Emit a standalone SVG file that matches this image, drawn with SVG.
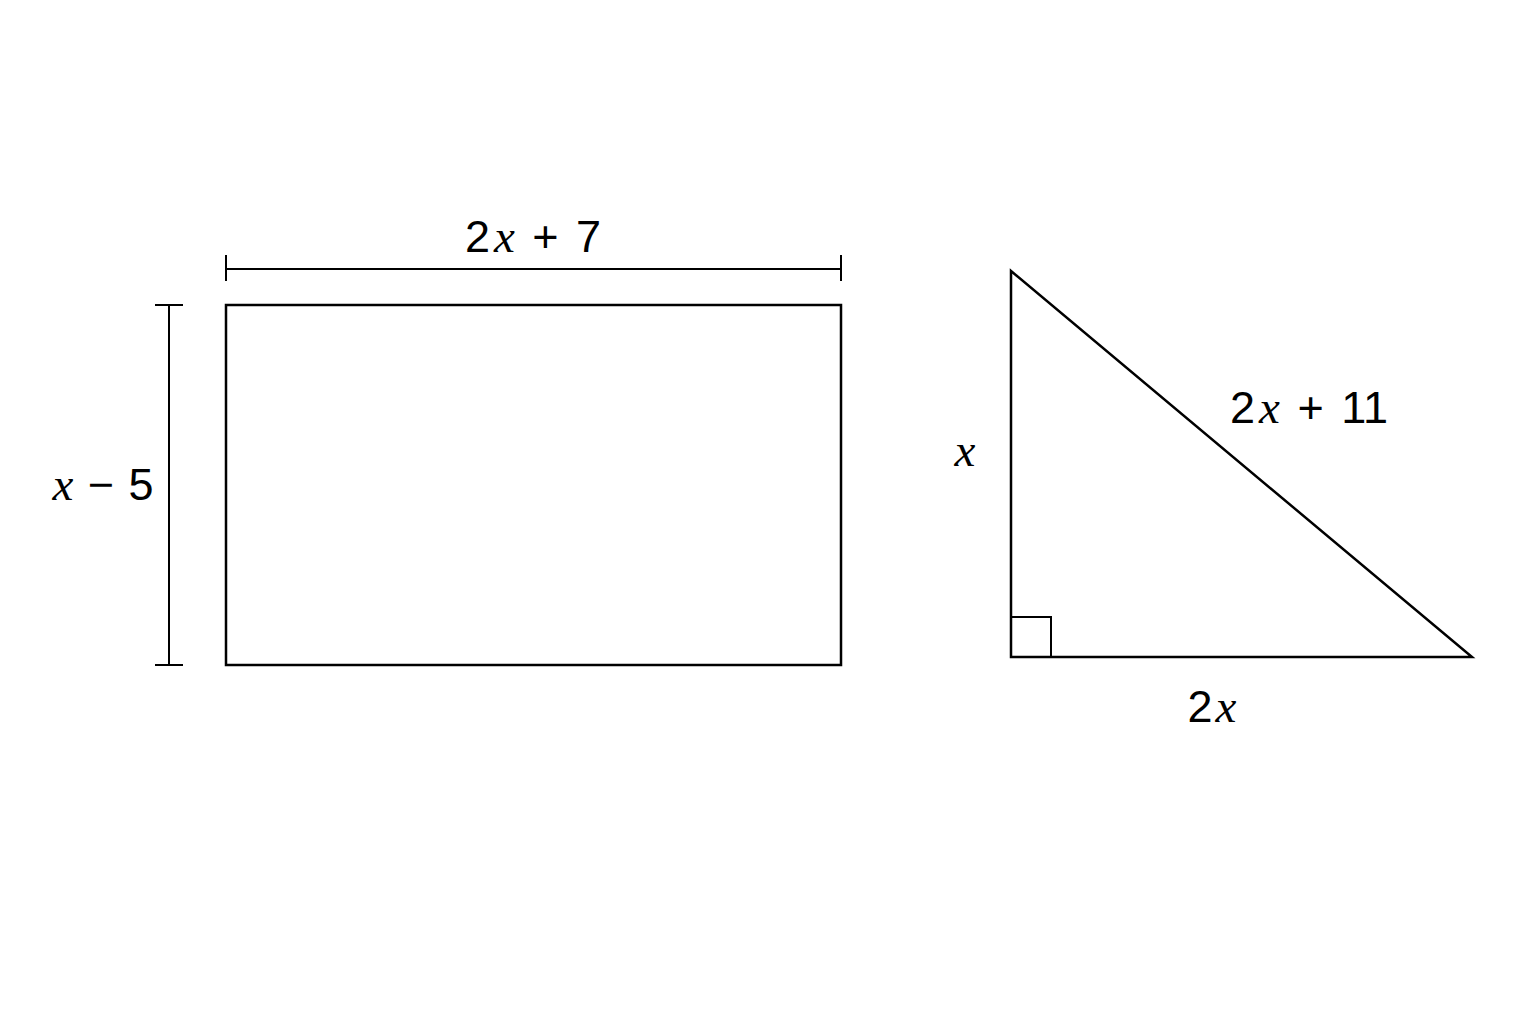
<svg xmlns="http://www.w3.org/2000/svg" width="1536" height="1024" viewBox="0 0 1536 1024">
<style>
.s{fill:none;stroke:#000;stroke-width:2.5;stroke-linejoin:miter}
.d{fill:none;stroke:#000;stroke-width:2}
.t{font-family:"Liberation Sans",Arial,sans-serif;font-size:45px;fill:#000;word-spacing:5px}
.v{font-family:"Liberation Serif","Times New Roman",serif;font-style:italic;font-size:47px}
</style>
<rect width="1536" height="1024" fill="#fff"/>
<g id="rectangle"><rect class="s" x="226" y="305" width="615" height="360"/></g>
<g id="triangle">
<polygon class="s" points="1011,271 1011,657 1472,657"/>
<polyline class="d" points="1011,617 1051,617 1051,657"/>
</g>
<g id="dimensions">
<line class="d" x1="226" y1="269" x2="841" y2="269"/>
<line class="d" x1="226" y1="255" x2="226" y2="281"/>
<line class="d" x1="841" y1="255" x2="841" y2="281"/>
<line class="d" x1="169" y1="305" x2="169" y2="665"/>
<line class="d" x1="155" y1="305" x2="183" y2="305"/>
<line class="d" x1="155" y1="665" x2="183" y2="665"/>
</g>
<g id="labels">
<text class="t" x="533" y="252" text-anchor="middle">2<tspan class="v" dx="4">x</tspan> + 7</text>
<text class="t" x="103" y="500" text-anchor="middle" style="word-spacing:2px"><tspan class="v">x</tspan> − 5</text>
<text class="t" x="965" y="466" text-anchor="middle"><tspan class="v">x</tspan></text>
<text class="t" x="1309" y="423" text-anchor="middle">2<tspan class="v" dx="4">x</tspan> + 11</text>
<text class="t" x="1212" y="722" text-anchor="middle">2<tspan class="v" dx="3">x</tspan></text>
</g>
</svg>
